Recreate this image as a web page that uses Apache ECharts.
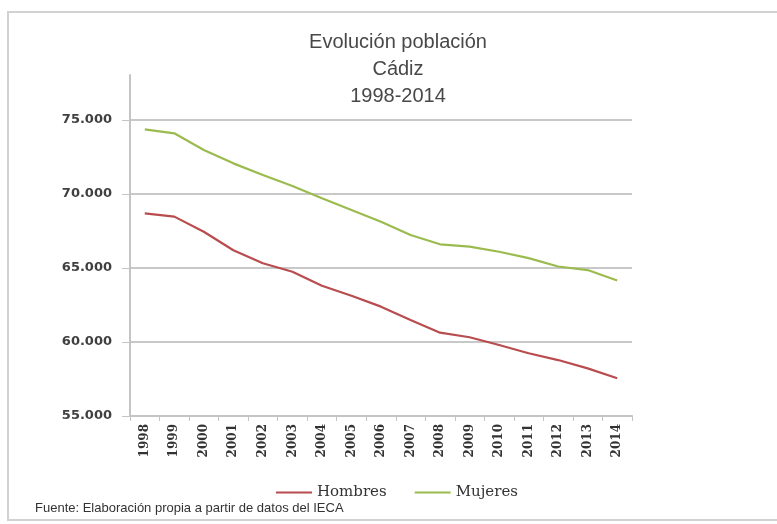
<!DOCTYPE html>
<html>
<head>
<meta charset="utf-8">
<script src="https://cdn.jsdelivr.net/npm/echarts@6/dist/echarts.min.js"></script>
<style>
html,body{margin:0;padding:0;background:#fff;}
#c{width:777px;height:524px;}
</style>
</head>
<body>
<div id="c"></div>
<script>
var years = ['1998','1999','2000','2001','2002','2003','2004','2005','2006','2007','2008','2009','2010','2011','2012','2013','2014'];
var hombres = [68690, 68470, 67450, 66200, 65320, 64750, 63800, 63120, 62390, 61490, 60630, 60320, 59800, 59240, 58780, 58220, 57550];
var mujeres = [74370, 74100, 72970, 72070, 71280, 70540, 69710, 68920, 68130, 67230, 66600, 66440, 66100, 65670, 65100, 64860, 64150];
var titleLines = ['Evolución población', 'Cádiz', '1998-2014'];
var footer = 'Fuente: Elaboración propia a partir de datos del IECA';

var chart = echarts.init(document.getElementById('c'), null, {renderer:'canvas'});
var fmt = function(v){ return String(v).replace(/\B(?=(\d{3})+(?!\d))/g, '.'); };
var option = {
  backgroundColor: '#fff',
  animation: false,
  graphic: [
    {type:'rect', shape:{x:8,y:12,width:800,height:508}, style:{fill:'none', stroke:'#d2d2d2', lineWidth:2}, silent:true},
    {type:'text', x:398, y:42, style:{text:titleLines[0], textAlign:'center', textVerticalAlign:'middle', font:'20px "Liberation Sans"', fill:'#484848'}},
    {type:'text', x:398, y:69, style:{text:titleLines[1], textAlign:'center', textVerticalAlign:'middle', font:'20px "Liberation Sans"', fill:'#484848'}},
    {type:'text', x:398, y:96, style:{text:titleLines[2], textAlign:'center', textVerticalAlign:'middle', font:'20px "Liberation Sans"', fill:'#484848'}},
    {type:'text', x:35, y:508, style:{text:footer, textAlign:'left', textVerticalAlign:'middle', font:'13px "Liberation Sans"', fill:'#333'}}
  ],
  legend: {
    left: 271, top: 480,
    itemWidth: 36, itemHeight: 2, itemGap: 28,
    icon: 'rect',
    textStyle: {fontFamily:'DejaVu Serif', fontSize:15, color:'#333'},
    data: ['Hombres','Mujeres']
  },
  grid: [
    {left:130, right:145, top:120, bottom:108, containLabel:false},
    {left:130, right:145, top:75, bottom:108, containLabel:false}
  ],
  xAxis: [
    {
      type:'category', gridIndex:0, data: years, boundaryGap:true,
      axisLine:{show:true, lineStyle:{color:'#c4c4c4', width:2}},
      axisTick:{show:true, alignWithLabel:false, length:5, lineStyle:{color:'#c4c4c4', width:1}},
      axisLabel:{rotate:90, margin:8, fontFamily:'DejaVu Serif', fontWeight:'bold', fontSize:12, color:'#333', interval:0},
      splitLine:{show:false}
    },
    {type:'category', gridIndex:1, data: years, show:false}
  ],
  yAxis: [
    {
      type:'value', gridIndex:0, min:55000, max:75000, interval:5000,
      axisLine:{show:false},
      axisTick:{show:true, inside:false, length:8, lineStyle:{color:'#c4c4c4', width:1}},
      axisLabel:{formatter:fmt, margin:18, fontFamily:'DejaVu Sans', fontWeight:'bold', fontSize:13, color:'#404040'},
      splitLine:{show:true, lineStyle:{color:'#c8c8c8', width:2}}
    },
    {
      type:'value', gridIndex:1, min:0, max:1,
      axisLine:{show:true, lineStyle:{color:'#c4c4c4', width:2}},
      axisTick:{show:false}, axisLabel:{show:false}, splitLine:{show:false}
    }
  ],
  series: [
    {name:'Hombres', type:'line', xAxisIndex:0, yAxisIndex:0, data:hombres, symbol:'none', smooth:false,
     lineStyle:{color:'#b84c4e', width:2.2}, itemStyle:{color:'#b84c4e'}},
    {name:'Mujeres', type:'line', xAxisIndex:0, yAxisIndex:0, data:mujeres, symbol:'none', smooth:false,
     lineStyle:{color:'#9bbb4f', width:2.2}, itemStyle:{color:'#9bbb4f'}}
  ]
};
chart.setOption(option);
</script>
</body>
</html>
